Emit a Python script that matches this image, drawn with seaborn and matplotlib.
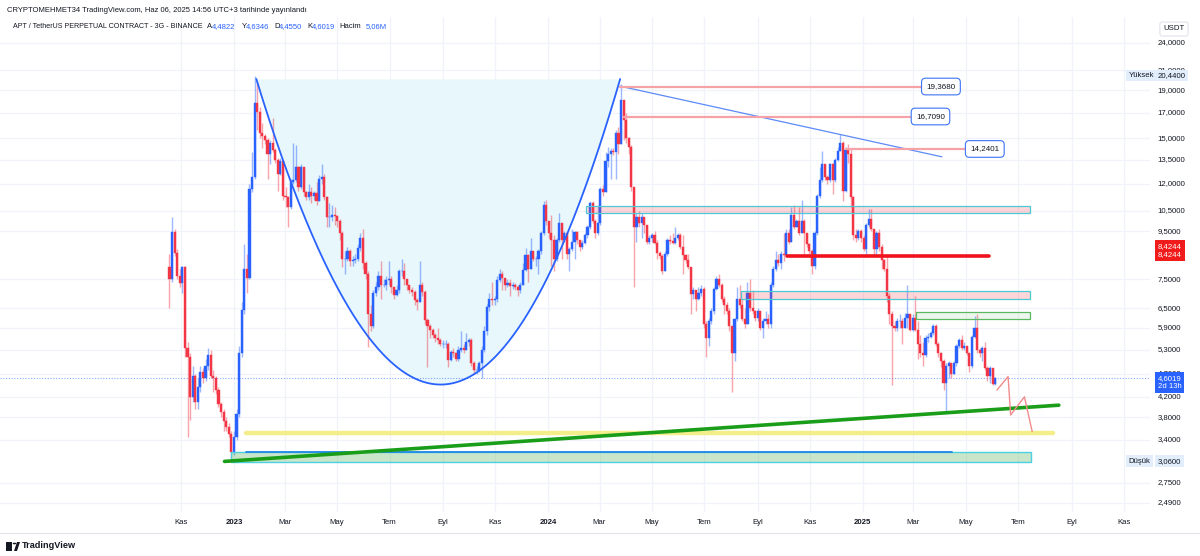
import numpy as np
import pandas as pd
import matplotlib
matplotlib.use("Agg")
import matplotlib.pyplot as plt
import matplotlib.dates as mdates
from matplotlib.patches import Rectangle, Polygon, Circle
from matplotlib.lines import Line2D
import seaborn as sns

sns.set_style("white")
plt.rcParams["font.family"] = ["Liberation Sans", "DejaVu Sans"]

# APT / USDT perp, 3-day candles
FIRST_BAR = "2022-10-18"
first_open = 7.95
closes = [
    7.5, 9.45, 8.55, 7.6, 7.35, 7.95, 5.35, 5.1, 4.2, 4.65,
    4.1, 4.4, 4.75, 4.6, 4.9, 5.15, 4.65, 4.6, 4.35, 4.05,
    3.9, 3.72, 3.62, 3.5, 3.2, 3.45, 3.85, 5.2, 6.45, 7.9,
    7.55, 11.7, 12.4, 17.9, 17.1, 15.4, 15.2, 14.9, 13.9, 14.7,
    14.2, 13.5, 12.6, 13.4, 11.3, 11.25, 10.7, 12.1, 12.2, 13.0,
    11.8, 13.0, 11.5, 11.25, 11.5, 11.3, 11.45, 11.0, 12.3, 12.4,
    11.25, 10.2, 10.2, 10.3, 10.25, 10.0, 9.4, 8.3, 8.3, 8.6,
    8.2, 8.25, 8.3, 8.75, 9.2, 8.1, 7.7, 6.3, 5.95, 7.0,
    7.2, 7.6, 7.3, 7.3, 7.45, 7.5, 7.2, 6.95, 7.1, 7.8,
    7.8, 7.5, 7.3, 7.1, 7.05, 6.75, 6.7, 7.3, 7.05, 6.13,
    5.95, 5.85, 5.7, 5.6, 5.55, 5.45, 5.45, 5.45, 5.03, 5.25,
    5.2, 5.05, 5.3, 5.35, 5.3, 5.5, 5.55, 4.97, 4.8, 4.8,
    4.95, 5.3, 5.8, 6.55, 6.8, 6.75, 6.8, 7.47, 7.7, 7.55,
    7.3, 7.35, 7.25, 7.3, 7.2, 7.1, 7.3, 7.85, 8.45, 7.9,
    8.6, 8.3, 8.3, 8.6, 9.4, 10.8, 10.0, 9.4, 9.1, 8.3,
    9.1, 9.9, 9.1, 9.4, 8.5, 8.7, 9.0, 9.45, 9.1, 8.8,
    8.95, 9.3, 9.7, 10.9, 10.0, 9.4, 9.9, 11.7, 11.5, 13.4,
    13.9, 14.1, 14.0, 15.4, 14.6, 18.1, 16.4, 15.0, 14.4, 11.8,
    9.7, 10.2, 9.9, 10.2, 9.8, 9.0, 9.2, 9.3, 8.95, 8.55,
    8.4, 7.8, 8.5, 9.1, 9.05, 8.95, 9.2, 9.3, 8.8, 8.45,
    8.24, 7.97, 6.97, 7.1, 6.8, 7.0, 7.15, 6.0, 5.6, 6.1,
    6.4, 7.15, 7.5, 7.3, 6.8, 6.6, 6.4, 5.95, 5.2, 6.15,
    6.8, 6.6, 6.15, 6.0, 7.0, 6.5, 6.4, 6.2, 6.4, 5.9,
    6.1, 6.15, 6.0, 7.3, 7.9, 8.24, 8.1, 8.5, 8.45, 9.4,
    9.0, 10.3, 9.7, 10.0, 9.4, 10.0, 9.4, 8.9, 8.6, 8.0,
    9.4, 11.3, 12.2, 13.2, 12.4, 12.2, 13.2, 12.2, 13.5, 14.1,
    14.7, 11.6, 14.2, 13.9, 11.25, 9.3, 9.2, 9.5, 9.2, 8.7,
    9.8, 10.1, 9.6, 8.7, 9.4, 8.8, 8.24, 7.9, 6.9, 6.3,
    5.95, 5.9, 6.1, 6.1, 5.9, 6.2, 6.3, 5.85, 6.2, 5.83,
    5.45, 5.2, 5.15, 5.6, 5.65, 5.75, 5.95, 5.45, 5.2, 5.0,
    4.5, 4.9, 4.95, 4.7, 4.95, 5.4, 5.55, 5.35, 5.4, 5.2,
    4.9, 5.65, 5.9, 5.3, 5.2, 5.35, 4.85, 4.65, 4.85, 4.4822, 4.6019,
]
highs = [
    8.5, 10.2, 9.6, 8.7, 7.9, 8.0, 8.0, 5.5, 5.2, 4.9,
    4.7, 4.6, 4.9, 4.85, 5.05, 5.35, 5.3, 4.8, 4.65, 4.4,
    4.1, 3.95, 3.8, 3.7, 3.55, 3.55, 3.95, 5.4, 6.7, 8.9,
    8.5, 12.0, 14.0, 20.44, 19.8, 17.5, 16.2, 15.3, 15.0, 14.9,
    16.6, 14.3, 13.6, 13.6, 13.5, 11.8, 11.3, 12.3, 14.7, 14.5,
    13.1, 13.2, 13.0, 11.6, 12.0, 11.8, 11.6, 12.1, 12.5, 13.2,
    12.6, 11.3, 10.9, 10.8, 10.7, 10.3, 10.1, 9.5, 8.6, 8.8,
    8.7, 8.4, 8.5, 8.9, 9.4, 9.6, 8.2, 7.8, 6.6, 7.1,
    7.4, 7.8, 8.2, 7.5, 7.6, 8.2, 7.6, 7.2, 7.3, 7.9,
    8.3, 8.1, 7.5, 7.3, 7.2, 7.1, 6.85, 8.2, 7.4, 7.1,
    6.2, 6.0, 5.9, 5.75, 5.9, 5.6, 5.55, 5.55, 5.5, 5.3,
    5.35, 5.25, 5.4, 5.8, 5.45, 5.75, 5.6, 5.6, 5.0, 4.9,
    5.0, 5.4, 5.95, 6.65, 7.0, 7.4, 6.9, 7.6, 7.9, 7.8,
    7.5, 7.5, 7.5, 7.4, 7.35, 7.3, 7.4, 8.1, 8.75, 8.5,
    9.2, 8.6, 8.4, 8.7, 9.5, 11.0, 11.1, 10.0, 10.3, 9.3,
    9.2, 10.4, 9.9, 9.5, 9.3, 8.8, 9.6, 9.5, 9.5, 9.1,
    9.1, 9.4, 9.8, 11.0, 11.0, 10.1, 10.8, 11.8, 11.9, 14.0,
    14.4, 14.3, 14.3, 15.6, 15.9, 19.6, 18.1, 17.0, 15.1, 14.5,
    11.8, 10.4, 10.5, 10.4, 10.2, 9.8, 9.3, 9.4, 9.5, 9.1,
    8.6, 8.5, 8.6, 9.2, 9.3, 9.4, 9.7, 9.4, 9.4, 9.3,
    8.5, 8.5, 7.9, 7.2, 7.1, 7.2, 7.3, 7.2, 6.1, 6.2,
    6.5, 7.2, 7.6, 7.7, 7.35, 6.9, 6.7, 6.5, 5.9, 6.2,
    7.2, 7.3, 6.8, 6.5, 7.4, 7.5, 7.1, 6.45, 6.5, 6.4,
    6.2, 6.4, 6.3, 7.4, 8.0, 8.6, 8.5, 8.6, 9.4, 9.6,
    9.6, 10.7, 10.8, 10.1, 10.7, 11.1, 10.1, 9.4, 8.95, 8.7,
    9.5, 11.4, 13.0, 14.1, 13.2, 12.5, 13.3, 13.3, 13.6, 14.4,
    15.3, 14.8, 14.4, 14.6, 14.3, 11.3, 9.6, 9.6, 9.6, 9.3,
    9.9, 10.6, 10.6, 9.6, 9.5, 9.6, 8.9, 8.3, 8.4, 7.0,
    6.4, 6.1, 6.2, 6.3, 6.2, 6.35, 7.3, 6.3, 6.3, 6.9,
    6.1, 5.7, 5.5, 5.7, 5.75, 5.8, 6.0, 6.0, 5.5, 5.25,
    5.05, 4.95, 5.0, 4.95, 5.0, 5.45, 5.6, 5.7, 5.5, 5.4,
    5.2, 5.7, 6.25, 6.3, 5.35, 5.4, 5.5, 4.9, 4.9, 4.85, 4.6346,
]
lows = [
    6.5, 7.4, 8.4, 7.5, 7.2, 7.0, 5.1, 3.45, 3.75, 4.1,
    3.95, 3.95, 4.3, 4.5, 4.55, 4.8, 4.6, 4.3, 4.25, 4.0,
    3.8, 3.55, 3.55, 3.45, 3.06, 3.15, 3.4, 3.8, 5.1, 6.3,
    7.0, 7.5, 11.5, 12.3, 15.6, 15.0, 14.3, 14.6, 12.3, 13.2,
    14.0, 13.3, 11.6, 12.5, 11.1, 10.7, 9.7, 10.6, 12.0, 12.1,
    11.6, 11.7, 11.3, 11.1, 11.1, 10.9, 11.1, 10.8, 11.0, 12.0,
    11.1, 9.7, 9.7, 10.0, 9.8, 9.7, 9.1, 7.97, 7.7, 8.2,
    8.0, 8.0, 8.1, 8.2, 8.6, 7.9, 7.5, 5.37, 5.8, 5.9,
    6.9, 7.1, 6.8, 7.2, 7.1, 7.3, 7.0, 6.8, 6.9, 7.0,
    7.6, 7.3, 7.1, 7.0, 6.9, 6.6, 6.45, 6.7, 6.9, 6.0,
    4.87, 5.6, 5.6, 5.5, 5.45, 5.4, 5.35, 5.35, 4.87, 5.0,
    5.1, 5.0, 5.0, 5.25, 5.2, 5.3, 5.4, 4.9, 4.7, 4.7,
    4.75, 4.6, 5.25, 5.7, 6.4, 6.6, 6.6, 6.7, 7.4, 7.1,
    7.1, 7.2, 6.9, 7.15, 7.1, 6.9, 7.0, 7.3, 7.8, 7.4,
    7.9, 8.2, 8.0, 7.7, 8.5, 9.3, 9.8, 9.2, 8.0, 7.8,
    8.2, 9.0, 8.3, 9.0, 8.3, 7.8, 8.6, 8.3, 8.9, 8.6,
    8.7, 8.9, 9.2, 9.6, 9.9, 9.2, 9.3, 9.8, 11.3, 11.6,
    13.0, 12.3, 13.8, 12.3, 13.9, 14.6, 14.9, 14.7, 13.9, 11.6,
    7.2, 9.0, 9.7, 9.2, 9.4, 8.9, 8.9, 9.0, 8.9, 8.3,
    8.3, 7.7, 7.8, 8.4, 8.9, 8.9, 8.9, 9.1, 8.7, 7.7,
    8.1, 7.9, 6.3, 6.8, 6.4, 6.75, 6.9, 5.9, 5.1, 5.4,
    6.0, 6.3, 7.1, 7.2, 6.7, 6.3, 6.3, 5.8, 4.3, 5.0,
    6.1, 6.5, 6.1, 5.9, 6.0, 6.4, 6.3, 6.1, 6.1, 5.85,
    5.6, 6.0, 5.9, 5.9, 7.2, 7.8, 8.0, 7.9, 8.2, 8.4,
    8.9, 9.4, 9.6, 9.7, 9.3, 9.4, 8.5, 8.8, 8.5, 7.7,
    7.9, 9.3, 11.2, 12.1, 12.2, 12.0, 12.1, 11.4, 12.1, 13.4,
    14.1, 11.0, 11.5, 13.3, 10.7, 9.1, 9.0, 9.1, 9.0, 8.6,
    8.5, 9.7, 9.5, 8.4, 8.5, 8.6, 7.9, 7.8, 6.7, 6.0,
    4.45, 5.8, 5.8, 5.9, 5.45, 5.9, 5.9, 5.8, 5.8, 5.8,
    5.05, 5.1, 4.9, 5.1, 5.5, 5.6, 5.7, 5.4, 5.1, 4.87,
    4.35, 3.9, 4.6, 4.6, 4.7, 4.9, 5.35, 5.3, 5.3, 5.15,
    4.75, 4.85, 5.6, 5.2, 5.1, 5.0, 4.8, 4.55, 4.5, 4.45, 4.455,
]

price_ticks = [24, 21, 19, 17, 15, 13.5, 12, 10.5, 9.5, 7.5, 6.5, 5.9,
               5.3, 4.7, 4.2, 3.8, 3.4, 2.75, 2.49]
month_dates = ["2022-11-01", "2023-01-01", "2023-03-01", "2023-05-01", "2023-07-01",
               "2023-09-01", "2023-11-01", "2024-01-01", "2024-03-01", "2024-05-01",
               "2024-07-01", "2024-09-01", "2024-11-01", "2025-01-01", "2025-03-01",
               "2025-05-01", "2025-07-01", "2025-09-01", "2025-11-01"]
month_labels = ["Kas", "2023", "Mar", "May", "Tem", "Eyl", "Kas", "2024", "Mar", "May",
                "Tem", "Eyl", "Kas", "2025", "Mar", "May", "Tem", "Eyl", "Kas"]

# drawn objects: (start, end, low, high)
pink_zones = [("2024-02-14", "2025-07-14", 10.37, 10.77),
              ("2024-08-12", "2025-07-14", 6.80, 7.07)]
green_zone = ("2025-03-04", "2025-07-14", 6.15, 6.37)
base_zone = ("2022-12-28", "2025-07-16", 3.05, 3.20)
# (start, end, price) levels with boxed labels
levels = [("2024-03-25", "2025-03-12", 19.368), ("2024-03-28", "2025-02-28", 16.709),
          ("2024-12-13", "2025-05-02", 14.2401)]
cup_pts = [("2023-01-27", 20.1), ("2023-09-01", 0.99), ("2024-03-25", 20.1)]
down_trend = [("2024-03-25", 19.4), ("2025-04-03", 13.7)]
up_trend = [("2022-12-21", 3.055), ("2025-08-17", 4.03)]
yellow_line = [("2023-01-15", 3.51), ("2025-08-10", 3.51)]
blue_base = [("2023-01-15", 3.20), ("2025-04-15", 3.20)]
red_level = [("2024-10-05", 8.4244), ("2025-05-28", 8.4244)]
path_dates = ["2025-06-06", "2025-06-19", "2025-06-22", "2025-07-08", "2025-07-17"]
path_prices = [4.34, 4.64, 3.84, 4.20, 3.54]
last_price = 4.6019

UP = "#2962FF"
DOWN = "#F23645"
TXT = "#131722"
GRID = "#F0F3FA"


def num(d):
    return mdates.date2num(pd.Timestamp(d))


def fx(x):
    return x / 1200


def fy(y):
    return 1 - y / 556


def fmt(v):
    return f"{v:.4f}".replace(".", ",")


assert len(closes) == len(highs) == len(lows)
dates = pd.date_range(FIRST_BAR, periods=len(closes), freq="3D")
df = pd.DataFrame({"date": dates, "open": [first_open] + closes[:-1],
                   "high": highs, "low": lows, "close": closes})
df["x"] = mdates.date2num(df["date"])
df["up"] = df["close"] >= df["open"]
df["high"] = df[["high", "open", "close"]].max(axis=1)
df["low"] = df[["low", "open", "close"]].min(axis=1)

fig = plt.figure(figsize=(12, 5.56), dpi=100)
ax = fig.add_axes([0, 44 / 556, 1150 / 1200, 495 / 556])
ax.set_yscale("log")
ax.set_xlim(num("2022-04-04"), num("2025-12-01"))
ax.set_ylim(2.381, 27.28)

# grid
for v in price_ticks:
    ax.axhline(v, color=GRID, lw=0.9, zorder=0)
for d in month_dates:
    ax.axvline(num(d), color=GRID, lw=0.9, zorder=0)

# cup (quadratic curve in date / log-price space)
t = np.linspace(0, 1, 300)
(c0, p0), (c1, p1), (c2, p2) = [(num(d), np.log(p)) for d, p in cup_pts]
bx = (1 - t) ** 2 * c0 + 2 * t * (1 - t) * c1 + t ** 2 * c2
by = np.exp((1 - t) ** 2 * p0 + 2 * t * (1 - t) * p1 + t ** 2 * p2)
ax.fill_between(bx, by, cup_pts[0][1], color="#E7F7FB", lw=0, zorder=0.5)
ax.plot(bx, by, color=UP, lw=1.3, zorder=5)

# candles
for is_up, col in [(True, UP), (False, DOWN)]:
    d = df[df["up"] == is_up]
    ax.vlines(d["x"], d["low"], d["high"], color=col, lw=1.0, alpha=0.45, zorder=3)
    ax.bar(d["x"], (d["close"] - d["open"]).abs(), bottom=d[["open", "close"]].min(axis=1),
           width=2.5, color=col, edgecolor=col, lw=0.3, zorder=3.5)

# zones
for s, e, lo, hi in pink_zones:
    ax.add_patch(Rectangle((num(s), lo), num(e) - num(s), hi - lo,
                           fc=(242 / 255, 54 / 255, 69 / 255, 0.2), ec="#4FC8D6", lw=0.9, zorder=4))
s, e, lo, hi = green_zone
ax.add_patch(Rectangle((num(s), lo), num(e) - num(s), hi - lo,
                       fc=(76 / 255, 175 / 255, 80 / 255, 0.1), ec="#5CB860", lw=0.9, zorder=4))
s, e, lo, hi = base_zone
ax.add_patch(Rectangle((num(s), lo), num(e) - num(s), hi - lo,
                       fc=(76 / 255, 175 / 255, 80 / 255, 0.3), ec="#4DD0E1", lw=1.0, zorder=4))


def seg(pts, **kw):
    line = pd.DataFrame({"x": [num(d) for d, _ in pts], "y": [p for _, p in pts]})
    sns.lineplot(data=line, x="x", y="y", ax=ax, estimator=None, sort=False, **kw)


seg(blue_base, color="#1E88E5", lw=1.3, zorder=5)
seg(yellow_line, color="#F3EE8A", lw=3.2, zorder=4.5)
seg(up_trend, color="#1A9E1A", lw=2.6, zorder=6)
seg(red_level, color="#F0131E", lw=2.6, zorder=6)
seg(down_trend, color="#5C8AF7", lw=0.9, zorder=5)
path = pd.DataFrame({"x": [num(d) for d in path_dates], "y": path_prices})
sns.lineplot(data=path, x="x", y="y", ax=ax, estimator=None, sort=False,
             color="#F28B8B", lw=1.0, zorder=6)

for s, e, v in levels:
    ax.plot([num(s), num(e)], [v, v], color="#F5A3A6", lw=1.6, zorder=5)
    ax.text(num(e) + 4, v, fmt(v), ha="left", va="center", fontsize=5.8, color=TXT, zorder=7,
            bbox=dict(boxstyle="round,pad=0.6,rounding_size=0.5", fc="white", ec="#3C73F5", lw=0.8))

ax.axhline(last_price, color=UP, ls=(0, (1, 1.5)), lw=0.8, alpha=0.55, zorder=2)

ax.set_xlabel("")
ax.set_ylabel("")
ax.set_xticks([])
ax.set_yticks([])
ax.minorticks_off()
ax.yaxis.set_minor_locator(matplotlib.ticker.NullLocator())
for sp in ax.spines.values():
    sp.set_visible(False)

# price scale
ytr = ax.get_yaxis_transform()
for v in price_ticks:
    ax.text(1.0068, v, fmt(v), transform=ytr, ha="left", va="center", fontsize=5.6,
            color=TXT, clip_on=False)

lb = "#E3EEFD"
ax.text(1.0068, 20.44, "20,4400", transform=ytr, ha="left", va="center", fontsize=5.6, color=TXT,
        clip_on=False, zorder=8, bbox=dict(boxstyle="square,pad=0.3", fc=lb, ec="none"))
ax.text(0.9815, 20.44, "Yüksek", transform=ytr, ha="left", va="center", fontsize=5.6, color=TXT,
        clip_on=False, zorder=8, bbox=dict(boxstyle="square,pad=0.3", fc=lb, ec="none"))
ax.text(1.0068, 3.06, "3,0600", transform=ytr, ha="left", va="center", fontsize=5.6, color=TXT,
        clip_on=False, zorder=8, bbox=dict(boxstyle="square,pad=0.3", fc=lb, ec="none"))
ax.text(0.9815, 3.06, "Düşük", transform=ytr, ha="left", va="center", fontsize=5.6, color=TXT,
        clip_on=False, zorder=8, bbox=dict(boxstyle="square,pad=0.3", fc=lb, ec="none"))
ax.annotate("8,4244\n8,4244", xy=(1.0068, 8.4244), xycoords=ytr, xytext=(0, 3.5),
            textcoords="offset points", ha="left", va="center", fontsize=5.6, color="white",
            linespacing=1.25, annotation_clip=False, zorder=8,
            bbox=dict(boxstyle="square,pad=0.35", fc="#F21B1B", ec="none"))
ax.annotate("4,6019\n2d 13h", xy=(1.0068, last_price), xycoords=ytr, xytext=(0, -3),
            textcoords="offset points", ha="left", va="center", fontsize=5.6, color="white",
            linespacing=1.15, annotation_clip=False, zorder=8,
            bbox=dict(boxstyle="square,pad=0.35", fc="#2962FF", ec="none"))
fig.text(fx(1174), fy(29), "USDT", ha="center", va="center", fontsize=5.6, color=TXT,
         bbox=dict(boxstyle="round,pad=0.45,rounding_size=0.3", fc="white", ec="#E0E3EB", lw=0.8))

# time scale
xtr = ax.get_xaxis_transform()
for d, lab in zip(month_dates, month_labels):
    ax.text(num(d), -0.021, lab, transform=xtr, ha="center", va="center", fontsize=5.6,
            color=TXT, fontweight="bold" if lab.isdigit() else "normal", clip_on=False)
fig.add_artist(Line2D([0, 1], [fy(533), fy(533)], color="#E0E3EB", lw=0.8))

# header
fig.text(fx(7), fy(10), "CRYPTOMEHMET34 TradingView.com, Haz 06, 2025 14:56 UTC+3 tarihinde yayınlandı",
         ha="left", va="center", fontsize=5.5, color=TXT)
header = [("APT / TetherUS PERPETUAL CONTRACT - 3G - BINANCE", 12.7, TXT), ("A", 207, TXT),
          ("4,4822", 211.5, UP), ("Y", 241.5, TXT), ("4,6346", 245.5, UP), ("D", 274, TXT),
          ("4,4550", 278.5, UP), ("K", 307, TXT), ("4,6019", 311.5, UP), ("Hacim", 339.5, TXT),
          ("5,06M", 366, UP)]
for txt, x, col in header:
    fig.text(fx(x), fy(27), txt, ha="left", va="center",
             fontsize=5.15 if x < 100 else 5.5, color=col)

# TradingView mark
fig.add_artist(Rectangle((fx(6), fy(551)), 6 / 1200, 9 / 556, transform=fig.transFigure,
                         fc=TXT, ec="none"))
fig.add_artist(Circle((fx(14.5), fy(543.5)), 1.8 / 1200, transform=fig.transFigure, fc=TXT, ec="none"))
fig.add_artist(Polygon([(fx(14), fy(551)), (fx(17), fy(542)), (fx(20), fy(542)), (fx(17), fy(551))],
                       closed=True, transform=fig.transFigure, fc=TXT, ec="none"))
fig.text(fx(22), fy(545.5), "TradingView", ha="left", va="center", fontsize=6.6,
         fontweight="bold", color=TXT)

fig.savefig("out.png", dpi=100)
